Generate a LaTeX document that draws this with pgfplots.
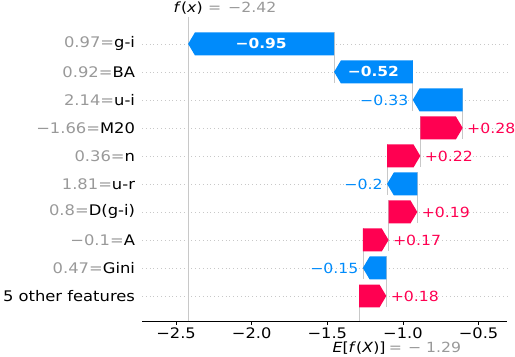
\documentclass[border=0pt]{standalone}
\usepackage{fontspec}
\setmainfont{DejaVu Sans}[FakeStretch=1.12]
\usepackage{pgfplots}
\pgfplotsset{compat=1.18}
\definecolor{shapred}{RGB}{255,0,81}
\definecolor{shapblue}{RGB}{0,139,251}
\definecolor{txtgray}{RGB}{153,153,153}
\definecolor{linegray}{RGB}{200,200,200}

% arrow-shaped bar: row, start, end, colour
\newcommand\shapbar[4]{%
  \pgfmathsetmacro\ylo{#1-0.41}%
  \pgfmathsetmacro\yhi{#1+0.41}%
  \pgfmathsetmacro\xneck{#3-0.045*sign(#3-(#2))}%
  \edef\tmp{\noexpand\addplot[fill=#4,draw=none,forget plot] coordinates
    {(#2,\ylo) (\xneck,\ylo) (#3,#1) (\xneck,\yhi) (#2,\yhi)};}%
  \tmp}
% thin connector at the start of a bar, down to the row below
\newcommand\shaplink[2]{%
  \pgfmathsetmacro\ya{#1+0.41}%
  \pgfmathsetmacro\yb{max(#1-1.41,0.107)}%
  \edef\tmp{\noexpand\addplot[linegray,line width=0.6bp,forget plot] coordinates
    {(#2,\ya) (#2,\yb)};}%
  \tmp}

\begin{document}
\begin{tikzpicture}
\path[use as bounding box] (0,0) rectangle (515bp,357bp);
\begin{axis}[at={(142bp,36bp)},anchor=south west,
  width=365bp,height=304bp,scale only axis,clip=false,
  xmin=-2.725,xmax=-0.312,ymin=0.107,ymax=10.96,
  axis x line*=bottom,axis y line*=left,
  x axis line style={-,black,line width=0.8bp},
  y axis line style={draw=none},
  xtick={-2.5,-2,-1.5,-1,-0.5},
  xticklabels={\mbox{−2.5},\mbox{−2.0},\mbox{−1.5},\mbox{−1.0},\mbox{−0.5}},
  ytick={1,...,10},
  yticklabels={5 other features,
    \textcolor{txtgray}{0.47=}Gini,
    \textcolor{txtgray}{−0.1=}A,
    \textcolor{txtgray}{0.8=}D(g-i),
    \textcolor{txtgray}{1.81=}u-r,
    \textcolor{txtgray}{0.36=}n,
    \textcolor{txtgray}{−1.66=}M20,
    \textcolor{txtgray}{2.14=}u-i,
    \textcolor{txtgray}{0.92=}BA,
    \textcolor{txtgray}{0.97=}g-i},
  ytick style={draw=none},
  xtick style={black,line width=0.6bp},
  tick align=outside,major tick length=3.5bp,
  ymajorgrids,
  grid style={linegray,line width=0.6bp,dash pattern=on 0.8bp off 3bp},
  xticklabel style={font=\fontsize{14.5bp}{16bp}\selectfont},
  yticklabel style={font=\fontsize{14.6bp}{17bp}\selectfont},
]
% f(x) line
\addplot[linegray,line width=0.6bp,forget plot] coordinates {(-2.42,0.107) (-2.42,10.96)};
% connectors (row, start)
\shaplink{1}{-1.29}
\shaplink{2}{-1.11}
\shaplink{3}{-1.265}
\shaplink{4}{-1.095}
\shaplink{5}{-0.905}
\shaplink{6}{-1.105}
\shaplink{7}{-0.885}
\shaplink{8}{-0.605}
\shaplink{9}{-0.935}
\shaplink{10}{-1.455}
% bars (row, start, end)
\shapbar{1}{-1.29}{-1.11}{shapred}
\shapbar{2}{-1.11}{-1.265}{shapblue}
\shapbar{3}{-1.265}{-1.095}{shapred}
\shapbar{4}{-1.095}{-0.905}{shapred}
\shapbar{5}{-0.905}{-1.105}{shapblue}
\shapbar{6}{-1.105}{-0.885}{shapred}
\shapbar{7}{-0.885}{-0.605}{shapred}
\shapbar{8}{-0.605}{-0.935}{shapblue}
\shapbar{9}{-0.935}{-1.455}{shapblue}
\shapbar{10}{-1.455}{-2.42}{shapblue}

% value labels
\begin{scope}[font=\fontsize{14bp}{16bp}\selectfont]
\node[text=white,font=\fontsize{13.8bp}{16bp}\selectfont\bfseries] at (axis cs:-1.9375,10) {−0.95};
\node[text=white,font=\fontsize{13.8bp}{16bp}\selectfont\bfseries] at (axis cs:-1.195,9) {−0.52};
\node[text=shapblue,anchor=east,xshift=-1bp] at (axis cs:-0.935,8) {−0.33};
\node[text=shapred,anchor=west,xshift=1bp] at (axis cs:-0.605,7) {+0.28};
\node[text=shapred,anchor=west,xshift=1bp] at (axis cs:-0.885,6) {+0.22};
\node[text=shapblue,anchor=east,xshift=-1bp] at (axis cs:-1.105,5) {−0.2};
\node[text=shapred,anchor=west,xshift=1bp] at (axis cs:-0.905,4) {+0.19};
\node[text=shapred,anchor=west,xshift=1bp] at (axis cs:-1.095,3) {+0.17};
\node[text=shapblue,anchor=east,xshift=-1bp] at (axis cs:-1.265,2) {−0.15};
\node[text=shapred,anchor=west,xshift=1bp] at (axis cs:-1.11,1) {+0.18};
\end{scope}

% f(x) and E[f(X)]
\begin{scope}[font=\fontsize{14bp}{16bp}\selectfont]
\node[anchor=base,yshift=4bp,inner sep=0pt] (fx) at (axis cs:-2.42,10.96) {\textit{f}(\textit{x})};
\node[anchor=base west,inner sep=0pt,text=txtgray] at (fx.base east) {\hspace{5bp}=\hspace{7bp}−2.42};
\node[anchor=base,yshift=-31bp,inner sep=0pt] (ef) at (axis cs:-1.29,0.107) {\textit{E}[\textit{f}(\textit{X})]};
\node[anchor=base west,inner sep=0pt,text=txtgray] at (ef.base east) {\hspace{3bp}=\hspace{6bp}−\hspace{5bp}1.29};
\end{scope}
\end{axis}
\end{tikzpicture}
\end{document}
